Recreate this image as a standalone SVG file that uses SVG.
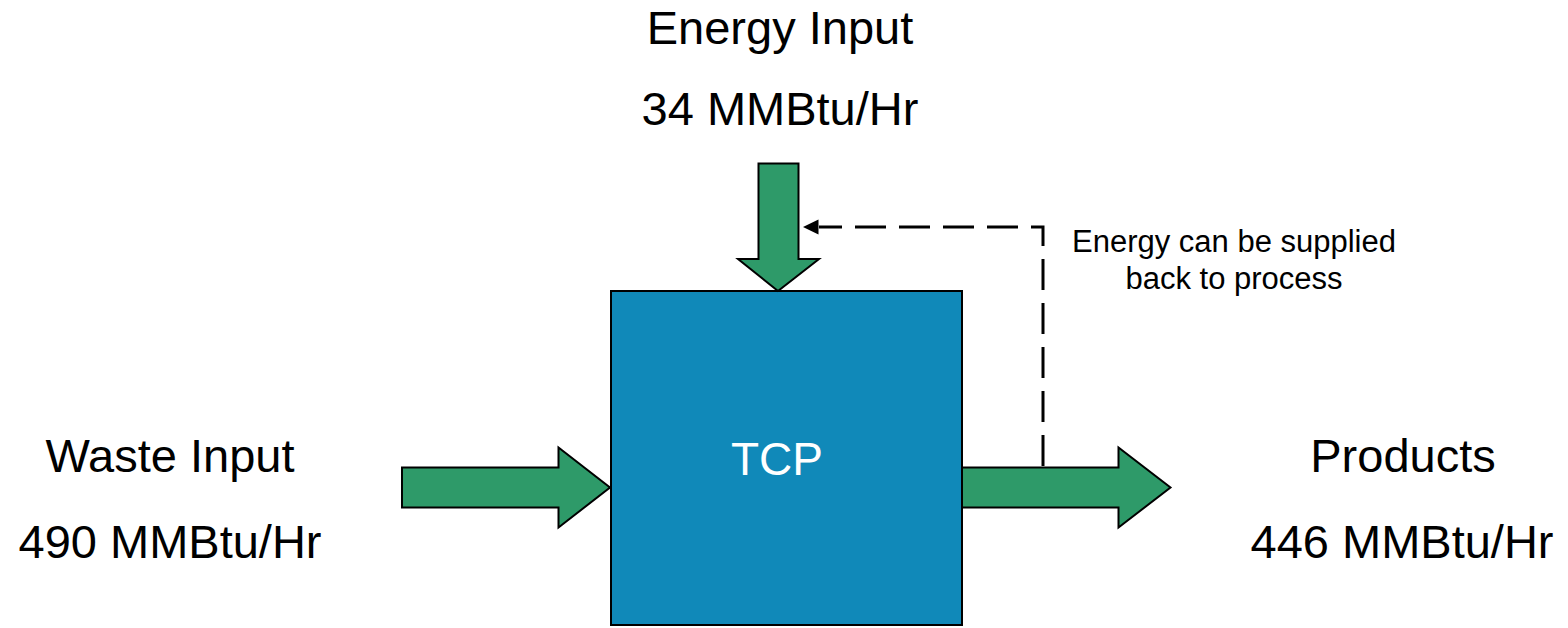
<svg xmlns="http://www.w3.org/2000/svg" width="1568" height="628" viewBox="0 0 1568 628">
<style>
.arrow{fill:#2E9A69;stroke:#000;stroke-width:2;stroke-linejoin:miter}
.lbl{font-family:"Liberation Sans",Arial,sans-serif;font-size:47px;fill:#000;text-anchor:middle}
.note{font-family:"Liberation Sans",Arial,sans-serif;font-size:31px;fill:#000;text-anchor:middle}
.dash{fill:none;stroke:#000;stroke-width:3;stroke-dasharray:31 13}
</style>
<rect width="1568" height="628" fill="#fff"/>
<g id="tcp">
<rect x="611" y="291" width="351" height="334" fill="#1089B9" stroke="#000" stroke-width="2"/>
<text x="777" y="475" class="lbl" style="fill:#fff;font-size:46px">TCP</text>
</g>
<g id="energy-input">
<text x="780" y="44" class="lbl">Energy Input</text>
<text x="780" y="125" class="lbl">34 MMBtu/Hr</text>
</g>
<g id="waste-input">
<text x="170" y="472" class="lbl">Waste Input</text>
<text x="170" y="558" class="lbl">490 MMBtu/Hr</text>
</g>
<g id="products">
<text x="1403" y="472" class="lbl">Products</text>
<text x="1402" y="558" class="lbl">446 MMBtu/Hr</text>
</g>
<g id="note">
<text x="1234" y="252" class="note">Energy can be supplied</text>
<text x="1234" y="289" class="note">back to process</text>
</g>
<g id="connectors">
<polygon class="arrow" points="758.5,163.5 798.5,163.5 798.5,259 819,259 778,291 738,259 758.5,259"/>
<polygon class="arrow" points="402,467.5 558.5,467.5 558.5,447.5 610,487.5 558.5,527.5 558.5,507.5 402,507.5"/>
<polygon class="arrow" points="962,467.5 1118.5,467.5 1118.5,447.5 1170.5,487.5 1118.5,527.5 1118.5,507.5 962,507.5"/>
<path class="dash" d="M1043,466 V227 H819"/>
<polygon points="803,227 818.5,219.5 818.5,234.5" fill="#000"/>
</g>
</svg>
